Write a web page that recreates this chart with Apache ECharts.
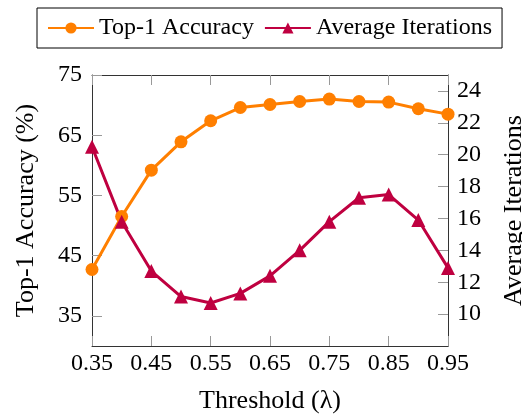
<!DOCTYPE html>
<html>
<head>
<meta charset="utf-8">
<script src="https://cdn.jsdelivr.net/npm/echarts@6/dist/echarts.min.js"></script>
<style>
  html, body { margin: 0; padding: 0; background: #fff; }
  #chart { width: 522px; height: 416px; }
</style>
</head>
<body>
<div id="chart"></div>
<script>
var thresholds = [0.35, 0.40, 0.45, 0.50, 0.55, 0.60, 0.65, 0.70, 0.75, 0.80, 0.85, 0.90, 0.95];
var accuracy = [42.7, 51.5, 59.2, 63.9, 67.4, 69.6, 70.1, 70.6, 71.0, 70.6, 70.5, 69.4, 68.5];
var iterations = [20.5, 15.8, 12.7, 11.1, 10.7, 11.3, 12.4, 14.0, 15.8, 17.3, 17.5, 15.9, 12.9];
var xTicks = [0.35, 0.45, 0.55, 0.65, 0.75, 0.85, 0.95];
var accTicks = [35, 45, 55, 65, 75];
var iterTicks = [10, 12, 14, 16, 18, 20, 22, 24];

var chartDom = document.getElementById('chart');
var myChart = echarts.init(chartDom, null, { renderer: 'canvas' });

var font = 'Liberation Serif';
var orange = '#ff7f00';
var purple = '#bf0040';

function pairs(xs, ys) {
    return xs.map(function (x, i) { return [x, ys[i]]; });
}

var option = {
    backgroundColor: '#fff',
    textStyle: { fontFamily: font, color: '#000' },
    legend: {
        left: 37,
        top: 8,
        padding: [8, 10, 8, 10],
        itemGap: 10,
        itemWidth: 46,
        itemHeight: 14,
        borderColor: '#000',
        borderWidth: 1,
        borderRadius: 0,
        textStyle: { fontFamily: font, fontSize: 24, color: '#000' },
        data: ['Top-1 Accuracy', 'Average Iterations']
    },
    grid: { left: 92, right: 74, top: 75, bottom: 70, containLabel: false, outerBoundsMode: 'none' },
    xAxis: [{
        type: 'value',
        min: 0.35,
        max: 0.95,
        name: 'Threshold (λ)',
        nameLocation: 'middle',
        nameGap: 42,
        nameTextStyle: { fontFamily: font, fontSize: 26, color: '#000' },
        axisLine: { lineStyle: { color: '#333', width: 1 } },
        axisTick: { inside: true, length: 10, lineStyle: { color: '#999' }, customValues: xTicks },
        axisLabel: {
            customValues: xTicks,
            margin: 6,
            fontFamily: font, fontSize: 24, color: '#000',
            formatter: function (v) { return v.toFixed(2); }
        },
        splitLine: { show: false }
    }, {
        type: 'value',
        position: 'top',
        min: 0.35,
        max: 0.95,
        axisLine: { lineStyle: { color: '#333', width: 1 } },
        axisTick: { inside: true, length: 10, lineStyle: { color: '#999' }, customValues: xTicks },
        axisLabel: { show: false },
        splitLine: { show: false }
    }],
    yAxis: [{
        type: 'value',
        position: 'left',
        min: 30,
        max: 75,
        name: 'Top-1 Accuracy (%)',
        nameLocation: 'middle',
        nameRotate: 90,
        nameGap: 53,
        nameTextStyle: { fontFamily: font, fontSize: 26, color: '#000' },
        axisLine: { show: true, lineStyle: { color: '#333', width: 1 } },
        axisTick: { show: true, inside: true, length: 10, lineStyle: { color: '#999' }, customValues: accTicks },
        axisLabel: { customValues: accTicks, margin: 10, fontFamily: font, fontSize: 24, color: '#000' },
        splitLine: { show: false }
    }, {
        type: 'value',
        position: 'right',
        min: 8,
        max: 25,
        name: 'Average Iterations',
        nameLocation: 'middle',
        nameRotate: 90,
        nameGap: 53,
        nameTextStyle: { fontFamily: font, fontSize: 26, color: '#000' },
        axisLine: { show: true, lineStyle: { color: '#333', width: 1 } },
        axisTick: { show: true, inside: true, length: 10, lineStyle: { color: '#999' }, customValues: iterTicks },
        axisLabel: { customValues: iterTicks, margin: 9, fontFamily: font, fontSize: 24, color: '#000' },
        splitLine: { show: false }
    }],
    series: [{
        name: 'Top-1 Accuracy',
        type: 'line',
        xAxisIndex: 0,
        yAxisIndex: 0,
        data: pairs(thresholds, accuracy),
        symbol: 'circle',
        symbolSize: 13,
        color: orange,
        lineStyle: { width: 3, color: orange },
        itemStyle: { color: orange },
        animation: false
    }, {
        name: 'Average Iterations',
        type: 'line',
        xAxisIndex: 0,
        yAxisIndex: 1,
        data: pairs(thresholds, iterations),
        symbol: 'triangle',
        symbolSize: 14,
        color: purple,
        lineStyle: { width: 3, color: purple },
        itemStyle: { color: purple },
        animation: false
    }]
};

if (option && typeof option === 'object') {
    myChart.setOption(option);
}

window.addEventListener('resize', myChart.resize);
</script>
</body>
</html>
